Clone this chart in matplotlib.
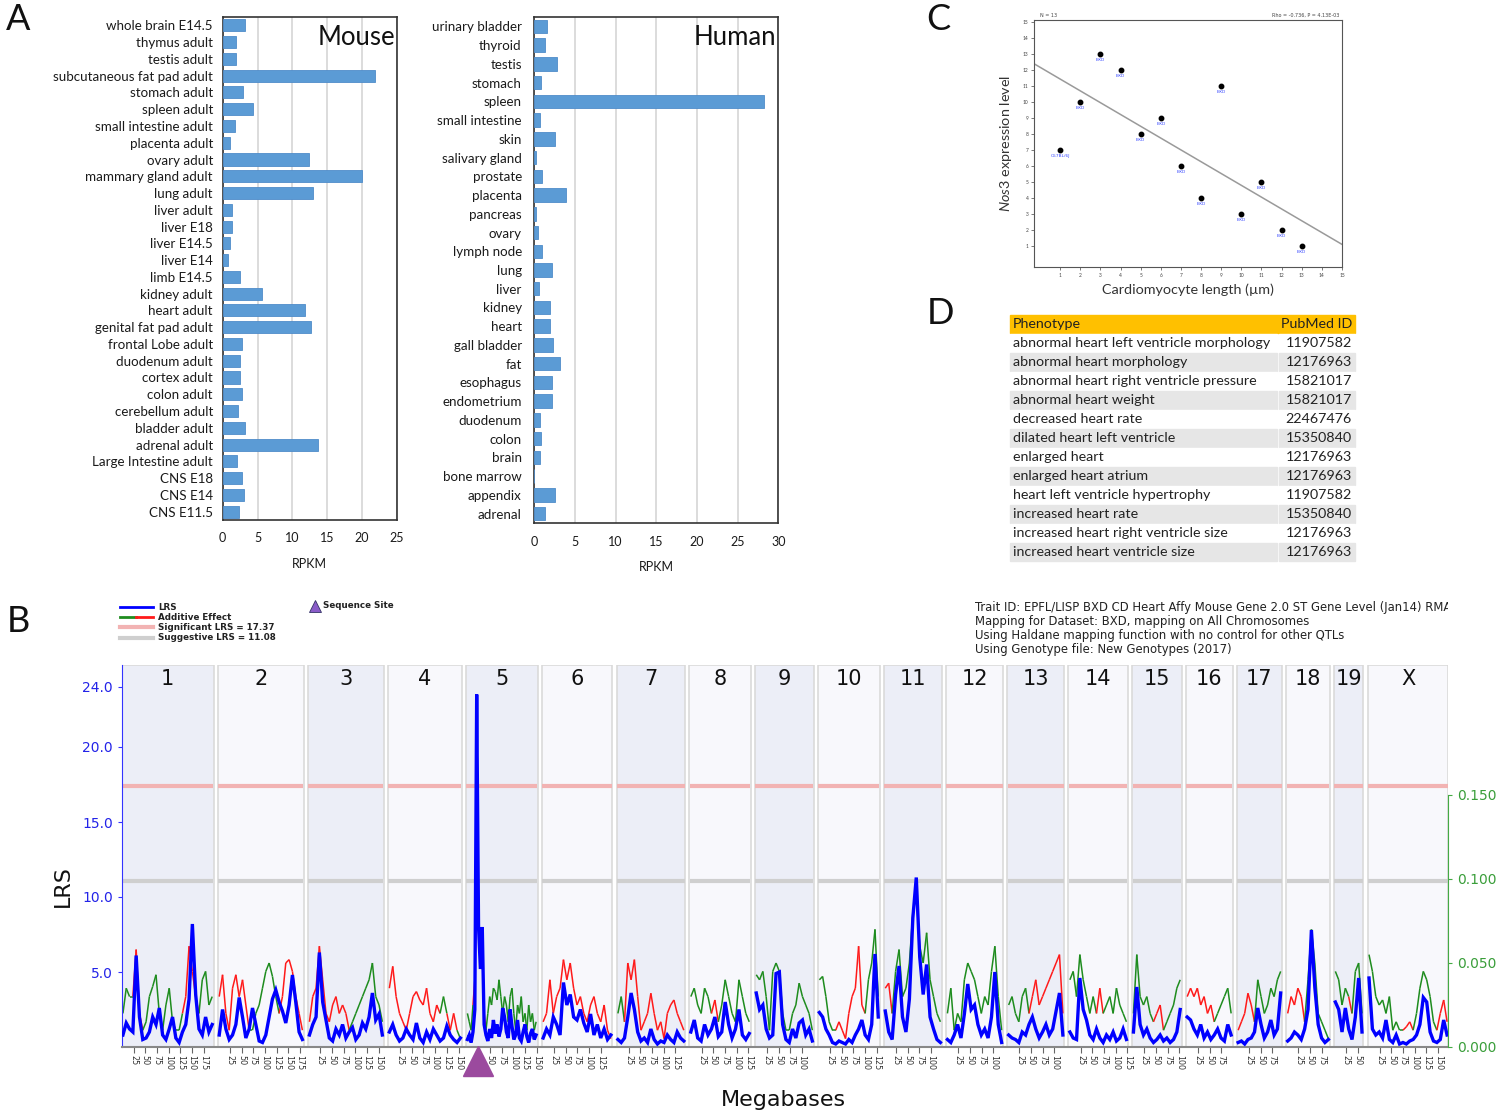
import numpy as np
import matplotlib.pyplot as plt
from matplotlib.collections import LineCollection
from matplotlib.patches import Rectangle
from matplotlib.transforms import Bbox

plt.rcParams['font.family'] = ['Lato', 'DejaVu Sans']
plt.rcParams['mathtext.fontset'] = 'custom'
plt.rcParams['mathtext.it'] = 'Lato:italic'
plt.rcParams['mathtext.rm'] = 'Lato'

W, H = 1500, 1114

# ---- panel A data
mouse_tissues = ['whole brain E14.5', 'thymus adult', 'testis adult', 'subcutaneous fat pad adult',
                 'stomach adult', 'spleen adult', 'small intestine adult', 'placenta adult', 'ovary adult',
                 'mammary gland adult', 'lung adult', 'liver adult', 'liver E18', 'liver E14.5', 'liver E14',
                 'limb E14.5', 'kidney adult', 'heart adult', 'genital fat pad adult', 'frontal Lobe adult',
                 'duodenum adult', 'cortex adult', 'colon adult', 'cerebellum adult', 'bladder adult',
                 'adrenal adult', 'Large Intestine adult', 'CNS E18', 'CNS E14', 'CNS E11.5']
mouse_rpkm = [3.2, 1.9, 1.9, 21.9, 2.9, 4.4, 1.7, 1.1, 12.4, 20.0, 12.9, 1.3, 1.3, 1.0, 0.8,
              2.5, 5.6, 11.8, 12.7, 2.7, 2.5, 2.5, 2.8, 2.2, 3.2, 13.7, 2.0, 2.7, 3.1, 2.4]

human_tissues = ['urinary bladder', 'thyroid', 'testis', 'stomach', 'spleen', 'small intestine', 'skin',
                 'salivary gland', 'prostate', 'placenta', 'pancreas', 'ovary', 'lymph node', 'lung',
                 'liver', 'kidney', 'heart', 'gall bladder', 'fat', 'esophagus', 'endometrium',
                 'duodenum', 'colon', 'brain', 'bone marrow', 'appendix', 'adrenal']
human_rpkm = [1.6, 1.35, 2.75, 0.85, 28.3, 0.7, 2.5, 0.15, 1.0, 3.9, 0.15, 0.4, 1.0, 2.2,
              0.6, 1.9, 1.9, 2.3, 3.1, 2.2, 2.2, 0.75, 0.85, 0.75, 0.0, 2.5, 1.3]

# ---- panel C data
cardio_length = [1, 2, 3, 4, 5, 6, 7, 8, 9, 10, 11, 12, 13]
nos3_level = [7, 10, 13, 12, 8, 9, 6, 4, 11, 3, 5, 2, 1]
strain_names = ['C57BL/6J', 'BXD', 'BXD', 'BXD', 'BXD', 'BXD', 'BXD', 'BXD', 'BXD', 'BXD', 'BXD', 'BXD', 'BXD']

# ---- panel D data
phenotypes = ['abnormal heart left ventricle morphology', 'abnormal heart morphology',
              'abnormal heart right ventricle pressure', 'abnormal heart weight', 'decreased heart rate',
              'dilated heart left ventricle', 'enlarged heart', 'enlarged heart atrium',
              'heart left ventricle hypertrophy', 'increased heart rate',
              'increased heart right ventricle size', 'increased heart ventricle size']
pubmed_ids = ['11907582', '12176963', '15821017', '15821017', '22467476', '15350840',
              '12176963', '12176963', '11907582', '15350840', '12176963', '12176963']

# ---- panel B data
chromosomes = ['1', '2', '3', '4', '5', '6', '7', '8', '9', '10', '11', '12', '13', '14', '15',
               '16', '17', '18', '19', 'X']
chrom_length_mb = [195, 182, 160, 156, 151, 149, 145, 129, 124, 130, 122, 120, 120, 125, 104,
                   98, 95, 91, 61, 171]
lrs_by_chrom = [
    [0.8, 1.6, 1.2, 1.0, 6.1, 2.0, 0.5, 0.6, 1.0, 2.0, 1.5, 2.6, 0.8, 0.5, 1.2, 2.0, 0.6, 0.3, 1.0, 1.5, 3.2, 8.2, 3.5, 1.2, 0.8, 2.0, 1.0, 1.5],
    [0.8, 2.5, 1.2, 0.5, 0.8, 1.5, 3.3, 2.0, 0.6, 1.2, 2.6, 1.5, 0.4, 0.3, 0.8, 2.0, 3.2, 3.8, 3.0, 2.4, 1.6, 2.8, 4.8, 3.0, 1.0, 0.5],
    [0.8, 1.5, 2.0, 6.3, 3.0, 1.8, 0.6, 0.4, 1.2, 0.8, 1.5, 0.6, 1.0, 1.3, 0.5, 0.8, 1.6, 1.2, 2.0, 3.6, 1.8, 2.2, 0.8],
    [1.0, 1.5, 0.8, 0.4, 0.6, 1.2, 0.8, 0.5, 1.6, 0.6, 0.3, 1.0, 0.5, 1.2, 0.8, 0.4, 0.6, 1.4, 0.8, 0.5, 0.3, 0.6],
    [0.5, 0.8, 0.3, 1.0, 2.5, 23.5, 8.0, 5.2, 8.0, 1.5, 0.8, 0.4, 1.2, 0.6, 1.8, 0.9, 1.5, 0.7, 1.2, 2.6, 2.0, 1.0, 0.6, 2.5, 1.4, 0.5, 0.8, 1.8, 0.6, 0.4, 1.0, 1.5, 0.7, 0.3, 0.9, 1.2, 0.5, 0.8],
    [0.6, 1.2, 0.8, 2.0, 1.5, 0.8, 4.3, 2.8, 3.5, 2.0, 1.8, 2.5, 1.6, 1.0, 2.2, 0.8, 1.5, 0.6, 1.2, 0.5, 0.8],
    [0.5, 0.3, 0.6, 2.0, 3.6, 2.5, 1.0, 0.4, 0.6, 0.3, 1.2, 0.5, 0.2, 0.4, 0.3, 0.8, 0.5, 0.3, 1.0, 0.6, 0.4],
    [1.0, 1.8, 0.6, 0.4, 1.5, 0.8, 1.2, 2.0, 0.7, 1.0, 3.0, 1.5, 0.6, 1.2, 2.5, 0.8, 0.5, 0.9],
    [3.6, 2.5, 2.8, 1.2, 0.6, 0.8, 4.9, 5.0, 1.5, 0.5, 0.3, 1.2, 0.6, 1.6, 1.8, 0.8, 1.2, 0.4],
    [2.3, 2.0, 1.2, 0.8, 0.3, 0.2, 0.4, 0.3, 0.2, 0.5, 0.3, 0.8, 1.2, 1.8, 0.8, 0.5, 1.5, 6.2, 2.0],
    [2.4, 1.0, 0.5, 3.5, 5.4, 2.0, 1.0, 3.2, 8.6, 11.3, 6.0, 3.5, 5.5, 2.0, 1.2, 0.5, 0.3],
    [0.5, 0.3, 0.8, 1.5, 0.6, 2.2, 4.2, 2.5, 2.8, 1.5, 0.8, 1.2, 0.6, 2.0, 5.0, 1.5, 0.3],
    [0.8, 0.6, 0.5, 0.3, 1.0, 0.8, 1.5, 2.0, 1.2, 0.6, 1.0, 1.5, 0.8, 1.2, 2.4, 3.6, 0.8],
    [1.0, 0.6, 0.5, 4.6, 2.5, 1.8, 0.8, 0.5, 1.2, 0.6, 0.3, 0.8, 0.5, 1.0, 0.4, 0.6, 1.2, 0.5],
    [1.0, 4.0, 1.5, 0.8, 1.2, 0.6, 0.3, 0.5, 0.8, 0.4, 0.6, 0.3, 0.5, 1.0, 2.5],
    [2.0, 1.8, 1.2, 0.8, 1.5, 0.6, 1.0, 0.5, 0.8, 1.2, 0.6, 0.4, 1.5, 0.8],
    [0.3, 0.4, 0.2, 0.5, 0.6, 1.0, 2.6, 1.5, 0.6, 1.0, 1.8, 0.8, 1.2, 3.6],
    [0.4, 0.6, 1.0, 0.8, 0.5, 1.2, 2.5, 7.8, 4.0, 1.5, 0.6, 0.3, 0.5],
    [3.0, 2.5, 1.0, 2.6, 1.2, 0.5, 2.0, 4.6, 1.0],
    [4.6, 1.2, 0.8, 1.0, 0.6, 1.8, 0.5, 0.3, 0.8, 0.2, 0.3, 0.2, 0.4, 0.5, 0.8, 1.5, 3.3, 3.0, 1.0, 0.4, 0.3, 0.5, 1.8, 0.8],
]
additive_by_chrom = [
    [0.02, 0.035, 0.03, -0.03, -0.058, -0.02, 0.01, 0.015, 0.03, 0.036, 0.043, 0.02, 0.01, 0.025, 0.035, 0.015, -0.01, 0.01, 0.02, -0.03, -0.06, -0.045, -0.03, 0.02, 0.04, 0.045, 0.025, 0.03],
    [-0.03, -0.043, -0.02, -0.01, -0.035, -0.043, -0.03, -0.04, -0.025, -0.01, 0.01, 0.02, 0.025, 0.035, 0.045, 0.05, 0.042, 0.03, -0.02, -0.03, -0.05, -0.052, -0.045, -0.03, -0.02, -0.01],
    [-0.015, -0.03, -0.035, -0.06, -0.04, -0.02, -0.015, -0.025, -0.03, -0.02, -0.025, -0.02, -0.01, 0.015, 0.02, 0.025, 0.03, 0.035, 0.04, 0.05, 0.03, 0.025, 0.015],
    [-0.035, -0.048, -0.03, -0.02, -0.015, -0.01, -0.02, -0.03, -0.033, -0.028, -0.025, -0.035, -0.02, -0.015, -0.025, 0.02, 0.03, -0.02, -0.01, -0.02, 0.01, 0.005],
    [0.02, 0.015, -0.01, 0.025, -0.04, -0.103, -0.07, -0.05, -0.065, -0.02, 0.01, 0.02, 0.03, 0.025, 0.035, 0.033, 0.028, 0.04, 0.03, 0.02, 0.03, 0.025, 0.015, 0.03, 0.035, 0.02, 0.01, 0.025, 0.02, 0.03, 0.015, 0.02, 0.01, 0.025, 0.015, 0.02, 0.01, 0.015],
    [0.015, -0.02, -0.04, -0.02, -0.03, -0.035, -0.052, -0.04, -0.05, -0.035, -0.025, -0.03, -0.02, -0.015, -0.025, -0.03, -0.02, -0.015, -0.025, -0.01, -0.005],
    [0.02, 0.03, 0.015, -0.05, -0.04, -0.052, -0.03, -0.01, -0.015, -0.02, -0.032, -0.02, -0.01, -0.015, -0.005, -0.02, -0.025, -0.028, -0.02, -0.015, -0.01],
    [0.03, 0.035, 0.025, 0.02, 0.035, 0.03, -0.02, -0.028, -0.015, 0.025, 0.04, 0.03, 0.02, -0.015, 0.04, 0.03, 0.02, 0.015],
    [0.043, 0.04, 0.045, 0.03, 0.01, 0.045, 0.05, 0.045, 0.02, -0.01, 0.01, 0.02, 0.025, 0.038, 0.03, 0.025, 0.02, 0.01],
    [0.04, 0.042, 0.03, 0.015, 0.01, -0.01, -0.015, -0.01, -0.005, -0.02, -0.03, -0.035, -0.06, -0.025, 0.02, 0.04, 0.05, 0.07, 0.03],
    [-0.035, -0.038, 0.02, 0.045, 0.058, 0.03, 0.035, 0.05, 0.08, 0.09, 0.06, 0.05, 0.068, 0.04, 0.03, 0.02, -0.015],
    [0.02, 0.035, 0.01, 0.02, 0.015, 0.04, 0.05, 0.045, 0.04, 0.03, 0.02, 0.03, 0.025, 0.045, 0.06, 0.03, 0.01],
    [0.025, 0.03, 0.02, 0.015, 0.03, 0.035, 0.02, -0.03, -0.04, -0.025, -0.03, -0.035, -0.04, -0.045, -0.05, -0.055, -0.02],
    [0.04, 0.045, 0.03, 0.055, 0.04, 0.03, 0.02, 0.03, -0.02, -0.035, -0.02, 0.025, 0.03, 0.02, 0.035, 0.025, 0.02, 0.015],
    [0.02, 0.055, 0.03, 0.025, 0.03, 0.02, -0.015, -0.02, -0.025, -0.01, 0.015, 0.02, 0.025, 0.035, 0.04],
    [-0.03, -0.035, -0.03, -0.035, -0.025, -0.03, -0.02, -0.025, -0.015, 0.02, 0.025, 0.03, 0.035, 0.02],
    [-0.01, -0.015, -0.02, -0.032, -0.025, -0.015, 0.04, 0.03, 0.02, 0.025, 0.035, 0.03, 0.04, 0.045],
    [-0.02, -0.03, -0.025, -0.035, -0.03, -0.015, 0.04, 0.07, 0.05, 0.02, 0.015, 0.01, 0.005],
    [0.045, 0.04, -0.025, 0.035, -0.03, 0.02, 0.045, 0.05, 0.02],
    [0.055, 0.045, 0.03, 0.025, 0.028, 0.02, 0.03, 0.01, 0.015, 0.01, -0.01, -0.012, -0.015, -0.01, 0.02, 0.035, 0.045, 0.04, 0.03, 0.015, -0.01, -0.02, -0.028, -0.015],
]
significant_lrs = 17.37
suggestive_lrs = 11.08
site_chrom, site_mb = '5', 24.4


def px_rect(x0, y0, x1, y1):
    # pixel box (top-left origin) -> figure fraction rect
    return [x0 / W, 1 - y1 / H, (x1 - x0) / W, (y1 - y0) / H]


fig = plt.figure(figsize=(W / 100, H / 100), dpi=100)
over = fig.add_axes([0, 0, 1, 1], zorder=10)
over.set_xlim(0, W)
over.set_ylim(H, 0)
over.axis('off')


def bar_panel(rect, tissues, values, xmax, title, ypad):
    ax = fig.add_axes(rect)
    y = np.arange(len(tissues))
    ax.barh(y, values, height=0.72, color='#5B9BD5', edgecolor='#4F8CC9', linewidth=0.6, zorder=3)
    ax.set_ylim(len(tissues) - 0.5, -0.5)
    ax.set_yticks(y, tissues, fontsize=9.6, color='#1A1A1A')
    ax.set_xlim(0, xmax)
    ax.set_xticks(np.arange(0, xmax + 1, 5))
    ax.tick_params(axis='x', labelsize=9, labelcolor='#1A1A1A', length=0, pad=9)
    ax.tick_params(axis='y', length=0, pad=ypad)
    ax.grid(axis='x', color='#D9D9D9', lw=1.3, zorder=0)
    for s in ax.spines.values():
        s.set_color('#333333')
        s.set_linewidth(1.2)
    ax.set_xlabel('RPKM', fontsize=9, color='#1A1A1A', labelpad=10)
    ax.text(0.99, 0.985, title, transform=ax.transAxes, ha='right', va='top', fontsize=18.5, color='#111111')
    return ax


bar_panel(px_rect(222.7, 17, 397, 520), mouse_tissues, mouse_rpkm, 25, 'Mouse', 7)
bar_panel(px_rect(534.3, 17, 778.3, 523), human_tissues, human_rpkm, 30, 'Human', 9)

# ---- panel C
axc = fig.add_axes(px_rect(1034, 20, 1342, 267))
axc.set_xlim(-0.3, 15.0)
axc.set_ylim(-0.3, 15.1)
axc.set_xticks(range(1, 16))
axc.set_yticks(range(1, 16))
axc.tick_params(labelsize=3.5, length=2, width=0.5, colors='#444444', pad=2)
for s in axc.spines.values():
    s.set_color('#555555')
    s.set_linewidth(0.8)
slope, intercept = np.polyfit(cardio_length, nos3_level, 1)
xs = np.array(axc.get_xlim())
axc.plot(xs, slope * xs + intercept, color='#9A9A9A', lw=1.1)
axc.plot(cardio_length, nos3_level, 'o', ms=3.2, color='black', zorder=4)
for xv, yv, nm in zip(cardio_length, nos3_level, strain_names):
    axc.text(xv, yv - 0.25, nm, fontsize=3.2, color='#3A4BFF', ha='center', va='top', family='DejaVu Sans')
axc.text(0.02, 1.01, 'N = 13', transform=axc.transAxes, fontsize=3.5, color='#444444', va='bottom',
         family='DejaVu Sans')
axc.text(0.99, 1.01, 'Rho = -0.736, P = 4.13E-03', transform=axc.transAxes, fontsize=3.5, color='#444444',
         va='bottom', ha='right', family='DejaVu Sans')
axc.set_ylabel(r'$\mathit{Nos3}$ expression level', fontsize=10.4, color='#333333', labelpad=6)
axc.set_xlabel('Cardiomyocyte length (\u00b5m)', fontsize=10.4, color='#333333', labelpad=4)

# ---- panel D (table)
tx0, tx1, tsplit = 1010, 1355, 1278
over.add_patch(Rectangle((tx0, 315), tx1 - tx0, 18, color='#FFC000'))
over.text(tx0 + 3, 324, 'Phenotype', fontsize=10.3, va='center', color='#222222')
over.text(tx1 - 3, 324, 'PubMed ID', fontsize=10.3, va='center', ha='right', color='#222222')
row_h = 19.0
for i, (ph, pid) in enumerate(zip(phenotypes, pubmed_ids)):
    top = 333 + i * row_h
    fill = '#FFFFFF' if i % 2 == 0 else '#E6E6E6'
    over.add_patch(Rectangle((tx0, top + 1), tsplit - tx0 - 1, row_h - 1, color=fill))
    over.add_patch(Rectangle((tsplit + 1, top + 1), tx1 - tsplit - 1, row_h - 1, color=fill))
    over.text(tx0 + 3, top + row_h / 2 + 0.5, ph, fontsize=10.3, va='center', color='#222222')
    over.text(tx1 - 3, top + row_h / 2 + 0.5, pid, fontsize=10.3, va='center', ha='right', color='#222222')

# ---- panel B
gap = 11
offsets = []
pos0 = 0
for L in chrom_length_mb:
    offsets.append(pos0)
    pos0 += L + gap
total_mb = pos0 - gap
lrs_top = (1047 - 665) / 15.0
eff_scale = 16.8 / 0.15  # additive effect -> LRS units on the shared axis

axb = fig.add_axes(px_rect(122, 665, 1448, 1047))
axb.set_xlim(0, total_mb)
axb.set_ylim(0, lrs_top)
ticks, tick_labels = [], []
for i, (name, L, off) in enumerate(zip(chromosomes, chrom_length_mb, offsets)):
    shade = '#ECEEF7' if i % 2 == 0 else '#F8F8FC'
    axb.add_patch(Rectangle((off - 1, 0), L + 2, lrs_top, facecolor=shade, edgecolor='#DADADA', lw=1.2, zorder=0))
    axb.text(off + L / 2, 24.55, name, ha='center', va='center', fontsize=15, color='#111111',
             family='DejaVu Sans')
    axb.hlines(significant_lrs, off, off + L, color='#F2B3B3', lw=3, zorder=1)
    axb.hlines(suggestive_lrs, off, off + L, color='#CFCFCF', lw=3, zorder=1)

    lrs = lrs_by_chrom[i]
    eff = additive_by_chrom[i]
    xp = np.linspace(off + 2, off + L - 2, len(lrs))
    xe = np.linspace(off + 2, off + L - 2, len(eff))
    ye = np.abs(np.array(eff)) * eff_scale
    segs = [[(xe[k], ye[k]), (xe[k + 1], ye[k + 1])] for k in range(len(xe) - 1)]
    cols = ['#1E8C1E' if eff[k] + eff[k + 1] >= 0 else '#FF1A1A' for k in range(len(xe) - 1)]
    axb.add_collection(LineCollection(segs, colors=cols, linewidths=1.1, zorder=2))
    axb.plot(xp, lrs, color='#0000FF', lw=2.4, zorder=3, solid_joinstyle='miter')

    for mb in range(25, L + 1, 25):
        ticks.append(off + mb)
        tick_labels.append(str(mb))

axb.set_xticks(ticks, tick_labels, rotation=270, fontsize=5.8, color='#333333', family='DejaVu Sans')
axb.tick_params(axis='x', length=4, width=0.8, color='#666666', pad=2)
axb.set_yticks([5, 10, 15, 20, 24], ['5.0', '10.0', '15.0', '20.0', '24.0'])
axb.tick_params(axis='y', labelsize=10, labelcolor='#2323E8', color='#3333FF', length=3)
for lab in axb.get_yticklabels():
    lab.set_family('DejaVu Sans')
axb.spines['left'].set_color('#3333FF')
axb.spines['bottom'].set_color('#888888')
axb.spines['bottom'].set_linewidth(1.5)
axb.spines['top'].set_visible(False)
axb.spines['right'].set_visible(False)
axb.set_ylabel('LRS', fontsize=16, family='DejaVu Sans', color='#111111')
axb.yaxis.set_label_coords(-0.037, 0.42)

site_off = offsets[chromosomes.index(site_chrom)]
axb.plot(site_off + site_mb, -0.9, marker='^', ms=22, color='#9B4A9E', clip_on=False, zorder=6)

axe = axb.twinx()
axe.set_ylim(0, lrs_top / eff_scale)
axe.set_yticks([0, 0.05, 0.1, 0.15], ['0.000', '0.050', '0.100', '0.150'])
axe.tick_params(axis='y', labelsize=10, labelcolor='#3A9E3A', color='#44AA44', length=3)
for lab in axe.get_yticklabels():
    lab.set_family('DejaVu Sans')
for side in ['top', 'left', 'bottom']:
    axe.spines[side].set_visible(False)
axe.spines['right'].set_color('#44AA44')
axe.spines['right'].set_bounds(0, 0.15)

fig.text(783 / W, 1 - 1100 / H, 'Megabases', ha='center', va='center', fontsize=16, family='DejaVu Sans',
         color='#111111')

# legend of panel B
over.plot([120, 153], [607, 607], color='#0000FF', lw=2)
over.plot([120, 136], [617, 617], color='#1E8C1E', lw=2)
over.plot([136, 153], [617, 617], color='#FF1A1A', lw=2)
over.plot([120, 153], [627, 627], color='#F2B3B3', lw=3)
over.plot([120, 153], [638, 638], color='#CFCFCF', lw=3)
for yy, txt in zip([607, 617, 627, 638], ['LRS', 'Additive Effect', 'Significant LRS = 17.37',
                                        'Suggestive LRS = 11.08']):
    over.text(158, yy, txt, fontsize=6.3, fontweight='bold', va='center', family='DejaVu Sans', color='#222222')
over.plot(315, 606, marker='^', ms=8, color='#8A5CC8', markeredgecolor='#333366', markeredgewidth=0.6)
over.text(323, 606, 'Sequence Site', fontsize=6.3, fontweight='bold', va='center', family='DejaVu Sans',
          color='#222222')

info_lines = ['Trait ID: EPFL/LISP BXD CD Heart Affy Mouse Gene 2.0 ST Gene Level (Jan14) RMA',
              'Mapping for Dataset: BXD, mapping on All Chromosomes',
              'Using Haldane mapping function with no control for other QTLs',
              'Using Genotype file: New Genotypes (2017)']
clip = Bbox.from_extents(0, 0, 1448, H)
for k, line in enumerate(info_lines):
    t = over.text(975, 607 + k * 14, line, fontsize=8.4, va='center', family='DejaVu Sans', color='#222222')
    t.set_clip_box(clip)
    t.set_clip_on(True)

# panel letters
for letter, x, y in [('A', 18, 20), ('B', 18, 622), ('C', 938, 20), ('D', 940, 313)]:
    over.text(x, y, letter, fontsize=26, ha='center', va='center', color='#111111')

fig.savefig('out.png', dpi=100, facecolor='white')
